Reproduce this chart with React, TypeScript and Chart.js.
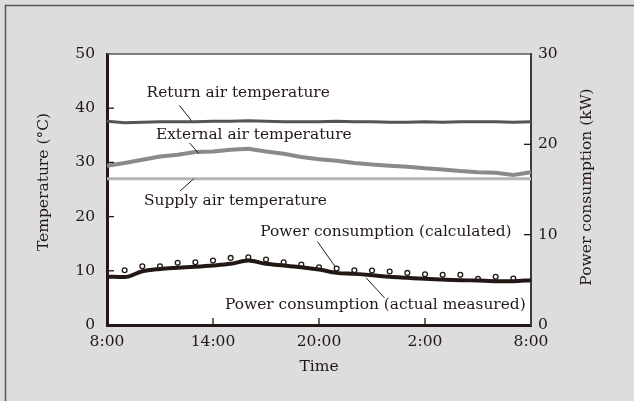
import React, { useEffect, useRef } from "react";
import { Chart, registerables } from "chart.js";

Chart.register(...registerables);

// ---- data (hours after 8:00) ----
const hours = [0, 1, 2, 3, 4, 5, 6, 7, 8, 9, 10, 11, 12, 13, 14, 15, 16, 17, 18, 19, 20, 21, 22, 23, 24];
const xTickLabels = ["8:00", "14:00", "20:00", "2:00", "8:00"];

const returnAirTemp = [37.6, 37.3, 37.4, 37.5, 37.5, 37.5, 37.6, 37.6, 37.7, 37.6, 37.5, 37.5, 37.5, 37.6, 37.5, 37.5, 37.4, 37.4, 37.5, 37.4, 37.5, 37.5, 37.5, 37.4, 37.5];
const externalAirTemp = [29.4, 29.9, 30.5, 31.1, 31.4, 31.9, 32.0, 32.35, 32.5, 32.0, 31.6, 31.0, 30.6, 30.3, 29.9, 29.6, 29.4, 29.2, 28.9, 28.7, 28.4, 28.2, 28.1, 27.7, 28.2];
const supplyAirTemp = [27.0, 27.0, 27.0, 27.0, 27.0, 27.0, 27.0, 27.0, 27.0, 27.0, 27.0, 27.0, 27.0, 27.0, 27.0, 27.0, 27.0, 27.0, 27.0, 27.0, 27.0, 27.0, 27.0, 27.0, 27.0];
const powerMeasured = [5.35, 5.3, 5.95, 6.2, 6.33, 6.44, 6.58, 6.77, 7.13, 6.77, 6.58, 6.4, 6.14, 5.77, 5.66, 5.51, 5.33, 5.22, 5.11, 5.03, 4.96, 4.92, 4.85, 4.85, 4.96];

const calcHours = [1, 2, 3, 4, 5, 6, 7, 8, 9, 10, 11, 12, 13, 14, 15, 16, 17, 18, 19, 20, 21, 22, 23];
const powerCalculated = [6.06, 6.5, 6.5, 6.88, 6.95, 7.13, 7.43, 7.5, 7.25, 6.95, 6.69, 6.4, 6.25, 6.06, 6.03, 5.92, 5.77, 5.62, 5.55, 5.55, 5.11, 5.33, 5.14];

const tempAxisTitle = "Temperature (°C)";
const powerAxisTitle = "Power consumption (kW)";
const timeAxisTitle = "Time";

// annotation labels in data units (x: hours, y: °C on left axis)
const labelTexts = [
  "Return air temperature",
  "External air temperature",
  "Supply air temperature",
  "Power consumption (calculated)",
  "Power consumption (actual measured)",
];
const labelX = [2.24, 2.77, 2.09, 8.68, 6.68];
const labelY = [42.8, 35.1, 22.8, 17.2, 3.6];
const leaderFrom = [[4.1, 40.5], [4.67, 33.6], [4.9, 26.95], [11.91, 15.4], [14.67, 8.7]];
const leaderTo = [[4.78, 37.7], [5.2, 31.6], [4.13, 24.7], [12.93, 10.7], [15.71, 5.0]];

const INK = "#231815";
const FONT = "'DejaVu Serif', serif";

const decorPlugin = {
  id: "decor",
  beforeDraw(chart: any) {
    const { ctx, chartArea } = chart;
    ctx.save();
    ctx.fillStyle = "#dcdddc";
    ctx.fillRect(0, 0, chart.width, chart.height);
    ctx.strokeStyle = "#595757";
    ctx.lineWidth = 1.5;
    ctx.strokeRect(5.5, 5.5, chart.width + 20, chart.height + 20);
    ctx.fillStyle = "#ffffff";
    ctx.fillRect(chartArea.left, chartArea.top, chartArea.right - chartArea.left, chartArea.bottom - chartArea.top);
    ctx.restore();
  },
  afterDraw(chart: any) {
    const { ctx, chartArea, scales } = chart;
    const { left, right, top, bottom } = chartArea;
    ctx.save();
    // top border
    ctx.strokeStyle = "#595757";
    ctx.lineWidth = 1.5;
    ctx.beginPath();
    ctx.moveTo(left, top);
    ctx.lineTo(right, top);
    ctx.stroke();
    // inward ticks
    ctx.strokeStyle = INK;
    ctx.lineWidth = 1.3;
    const tl = 7;
    scales.y.ticks.forEach((t: any) => {
      if (t.value <= scales.y.min || t.value >= scales.y.max) return;
      const py = scales.y.getPixelForValue(t.value);
      ctx.beginPath(); ctx.moveTo(left, py); ctx.lineTo(left + tl, py); ctx.stroke();
    });
    scales.y1.ticks.forEach((t: any) => {
      if (t.value <= scales.y1.min || t.value >= scales.y1.max) return;
      const py = scales.y1.getPixelForValue(t.value);
      ctx.beginPath(); ctx.moveTo(right, py); ctx.lineTo(right - tl, py); ctx.stroke();
    });
    scales.x.ticks.forEach((t: any) => {
      if (t.value <= scales.x.min || t.value >= scales.x.max) return;
      const px = scales.x.getPixelForValue(t.value);
      ctx.beginPath(); ctx.moveTo(px, bottom); ctx.lineTo(px, bottom - tl); ctx.stroke();
    });
    // annotations
    ctx.fillStyle = INK;
    ctx.font = `15.4px ${FONT}`;
    ctx.textBaseline = "middle";
    ctx.textAlign = "left";
    labelTexts.forEach((txt, i) => {
      const px = scales.x.getPixelForValue(labelX[i]);
      const py = scales.y.getPixelForValue(labelY[i]);
      ctx.fillText(txt, px, py);
      ctx.lineWidth = 1;
      ctx.beginPath();
      ctx.moveTo(scales.x.getPixelForValue(leaderFrom[i][0]), scales.y.getPixelForValue(leaderFrom[i][1]));
      ctx.lineTo(scales.x.getPixelForValue(leaderTo[i][0]), scales.y.getPixelForValue(leaderTo[i][1]));
      ctx.stroke();
    });
    // axis titles
    ctx.font = `15.5px ${FONT}`;
    ctx.textAlign = "center";
    ctx.fillText(timeAxisTitle, (left + right) / 2, 367);
    ctx.save();
    ctx.translate(43.5, 182);
    ctx.rotate(-Math.PI / 2);
    ctx.fillText(tempAxisTitle, 0, 0);
    ctx.restore();
    ctx.save();
    ctx.translate(587, 187);
    ctx.rotate(-Math.PI / 2);
    ctx.fillText(powerAxisTitle, 0, 0);
    ctx.restore();
    ctx.restore();
  },
};

export default function App() {
  const ref = useRef<HTMLCanvasElement | null>(null);
  useEffect(() => {
    document.body.style.margin = "0";
    const canvas = ref.current;
    if (!canvas) return;
    const tickFont = { family: FONT, size: 15.5 };
    const chart = new Chart(canvas, {
      type: "line",
      data: {
        datasets: [
          {
            label: "Return air temperature",
            data: hours.map((h, i) => ({ x: h, y: returnAirTemp[i] })),
            yAxisID: "y",
            borderColor: "#545454",
            borderWidth: 3,
            pointRadius: 0,
          },
          {
            label: "External air temperature",
            data: hours.map((h, i) => ({ x: h, y: externalAirTemp[i] })),
            yAxisID: "y",
            borderColor: "#8a8a8a",
            borderWidth: 4,
            pointRadius: 0,
          },
          {
            label: "Supply air temperature",
            data: hours.map((h, i) => ({ x: h, y: supplyAirTemp[i] })),
            yAxisID: "y",
            borderColor: "#b5b5b5",
            borderWidth: 3,
            pointRadius: 0,
          },
          {
            label: "Power consumption (actual measured)",
            data: hours.map((h, i) => ({ x: h, y: powerMeasured[i] })),
            yAxisID: "y1",
            borderColor: INK,
            borderWidth: 4,
            pointRadius: 0,
            cubicInterpolationMode: "monotone",
          },
          {
            label: "Power consumption (calculated)",
            data: calcHours.map((h, i) => ({ x: h, y: powerCalculated[i] })),
            yAxisID: "y1",
            showLine: false,
            pointRadius: 2.4,
            pointBorderWidth: 1.3,
            pointBorderColor: INK,
            pointBackgroundColor: "#ffffff",
          },
        ],
      } as any,
      options: {
        responsive: false,
        animation: false,
        devicePixelRatio: 1,
        layout: { padding: { top: 54, left: 0, right: 0, bottom: 0 } },
        plugins: { legend: { display: false }, tooltip: { enabled: false } },
        scales: {
          x: {
            type: "linear",
            min: 0,
            max: 24,
            position: "bottom",
            ticks: {
              stepSize: 6,
              autoSkip: false,
              maxRotation: 0,
              padding: 8,
              color: INK,
              font: tickFont,
              callback: (_v: any, i: number) => xTickLabels[i],
            },
            grid: { drawOnChartArea: false, drawTicks: false },
            border: { display: true, color: INK, width: 3 },
            afterFit: (s: any) => { s.height = 76; },
          },
          y: {
            min: 0,
            max: 50,
            position: "left",
            ticks: { stepSize: 10, padding: 12, color: INK, font: tickFont },
            grid: { drawOnChartArea: false, drawTicks: false },
            border: { display: true, color: INK, width: 3 },
            afterFit: (s: any) => { s.width = 107; },
          },
          y1: {
            min: 0,
            max: 30,
            position: "right",
            ticks: { stepSize: 10, padding: 7, color: INK, font: tickFont },
            grid: { drawOnChartArea: false, drawTicks: false },
            border: { display: true, color: "#3e3a39", width: 2 },
            afterFit: (s: any) => { s.width = 103; },
          },
        },
      } as any,
      plugins: [decorPlugin],
    });
    return () => chart.destroy();
  }, []);
  return (
    <div style={{ width: 634, height: 401 }}>
      <canvas ref={ref} width={634} height={401} style={{ display: "block" }} />
    </div>
  );
}
